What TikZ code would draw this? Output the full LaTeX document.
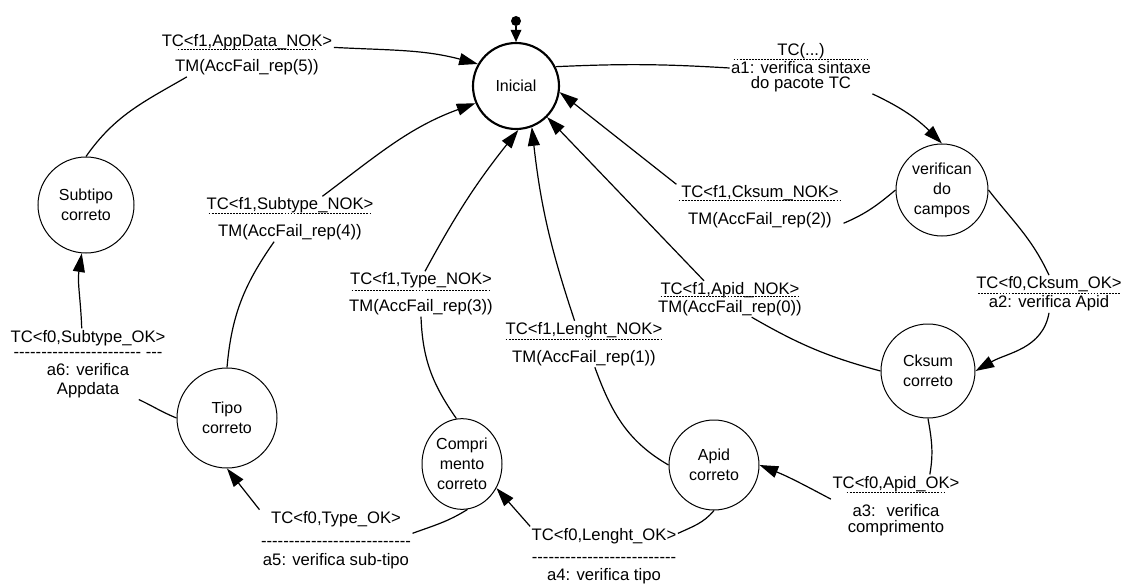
\documentclass[tikz,border=0pt]{standalone}
\usepackage{fontspec}
\setmainfont{Liberation Sans}[Ligatures=TeXOff]
\usepackage{tikz}
\usetikzlibrary{arrows.meta, shapes.geometric}

\newcommand{\dashsep}[1]{\leavevmode\hbox to #1{\xleaders\hbox to 2.25pt{\hss\vrule width 1.4pt height 0.6pt depth 0pt\hss}\hfill}}

\begin{document}
\begin{tikzpicture}[
  x=0.75pt, y=-0.75pt,
  state/.style = {draw, circle, line width=0.75pt, align=center, inner sep=1pt,
                  font=\fontsize{12}{15}\selectfont},
  lbl/.style = {align=center, inner sep=1pt, font=\fontsize{12.5}{15}\selectfont},
  arr/.style = {-{Triangle[length=14pt,width=9pt]}, line width=0.9pt},
  ln/.style = {line width=0.9pt}
]
\useasboundingbox (0,0) rectangle (1125,585);

\node[state, line width=1.6pt, minimum size=64.5pt] (ini) at (516,86) {Inicial};
\node[circle, fill, inner sep=0pt, minimum size=7.5pt] (start) at (516,21) {};
\node[state, minimum size=69pt] (verif) at (942,190) {verifican\\do\\campos};
\node[state, minimum size=70.5pt] (cks) at (928,371) {Cksum\\correto};
\node[state, minimum size=67.5pt] (apid) at (714,465) {Apid\\correto};
\node[state, ellipse, minimum width=60pt, minimum height=68pt] (comp) at (462,464) {Compri\\mento\\correto};
\node[state, minimum size=75pt] (tipo) at (227,418) {Tipo\\correto};
\node[state, minimum size=72pt] (sub) at (86,205) {Subtipo\\correto};

\node[lbl] (syn) at (801,68) {TC(...)\\[-12pt]\dashsep{102pt}\\[-4.5pt]a1: verifica sintaxe\\[-3.75pt]do pacote TC};
\node[lbl] (cknok) at (760,207) {TC<f1,Cksum\_NOK>\\[-13pt]\dashsep{123pt}\\[3pt]TM(AccFail\_rep(2))};
\node[lbl] (ckok) at (1049,294) {TC<f0,Cksum\_OK>\\[-11.25pt]\dashsep{107pt}\\[-4.5pt]a2: verifica Apid};
\node[lbl] (apnok) at (730,299) {TC<f1,Apid\_NOK>\\[-13pt]\dashsep{105pt}\\[-3.75pt]TM(AccFail\_rep(0))};
\node[lbl] (apok) at (896,506) {TC<f0,Apid\_OK>\\[-11.25pt]\dashsep{75pt}\\[2.5pt]a3:~ verifica\\[-3pt]comprimento};
\node[lbl] (lnnok) at (584,344) {TC<f1,Lenght\_NOK>\\[-11pt]\dashsep{118.5pt}\\[1.8pt]TM(AccFail\_rep(1))};
\node[lbl] (lnok) at (604,556) {TC<f0,Lenght\_OK>\\[2.1pt]--------------------------\\[-1.7pt]a4: verifica tipo};
\node[lbl] (tynok) at (421,294) {TC<f1,Type\_NOK>\\[-10.7pt]\dashsep{105pt}\\[0.75pt]TM(AccFail\_rep(3))};
\node[lbl] (tyok) at (336,540) {TC<f0,Type\_OK>\\[2.2pt]---------------------------\\[-0.75pt]a5: verifica sub-tipo};
\node[lbl] (stnok) at (290,219) {TC<f1,Subtype\_NOK>\\[-12.5pt]\dashsep{123pt}\\[2.5pt]TM(AccFail\_rep(4))};
\node[lbl] (stok) at (88,364) {TC<f0,Subtype\_OK>\\[-3.5pt]----------------------- ---\\[-1.5pt]a6: verifica\\[-0.75pt]Appdata};
\node[lbl] (adnok) at (247,55) {TC<f1,AppData\_NOK>\\[-13pt]\dashsep{105pt}\\[1.8pt]TM(AccFail\_rep(5))};

\draw[-{Triangle[length=9pt,width=8pt]}, line width=0.9pt] (start) -- (ini);
\draw[ln] (ini.26) to[bend left=3] (syn.west);
\draw[arr] (syn.south east) to[out=-25,in=135] (verif.north);
\draw[ln] (verif.west) to[out=220,in=23] (cknok.-11);
\draw[arr] (cknok.north west) -- (ini.-8);
\draw[ln] (verif.east) to[out=-52,in=115] (ckok.north);
\draw[arr] (ckok.south) to[out=-100,in=30] (cks.east);
\draw[ln] (cks.west) to[out=165,in=-30] (apnok.-40);
\draw[arr] (apnok.145) -- (ini.-45);
\draw[ln] (cks.south) to[out=-80,in=80] (apok.43);
\draw[arr] (apok.174) to[out=152,in=-22] (apid.east);
\draw[ln] (apid.west) to[out=150,in=-70] (lnnok.-65);
\draw[arr] (lnnok.112) to[bend left=6] (ini.-69);
\draw[ln] (apid.south) to[out=-130,in=25] (lnok.17);
\draw[arr] (lnok.north west) -- (comp.-35);
\draw[ln] (comp.97) to[out=125,in=-88] (tynok.south);
\draw[arr] (tynok.80) to[bend left=5] (ini.-87);
\draw[ln] (comp.-83) to[out=-148,in=20] (tyok.5);
\draw[arr] (tyok.north west) -- (tipo.south);
\draw[ln] (tipo.north) to[out=85,in=-125] (stnok.-125);
\draw[arr] (stnok.35) to[out=37,in=-160] (ini.-157);
\draw[ln] (tipo.west) to[out=158,in=-25] (stok.-35);
\draw[arr] (stok.100) to[out=92,in=-99] (sub.-95);
\draw[ln] (sub.north) to[out=55,in=-150] (adnok.-160);
\draw[arr] (adnok.5) to[out=-3,in=165] (ini.150);
\end{tikzpicture}
\end{document}
